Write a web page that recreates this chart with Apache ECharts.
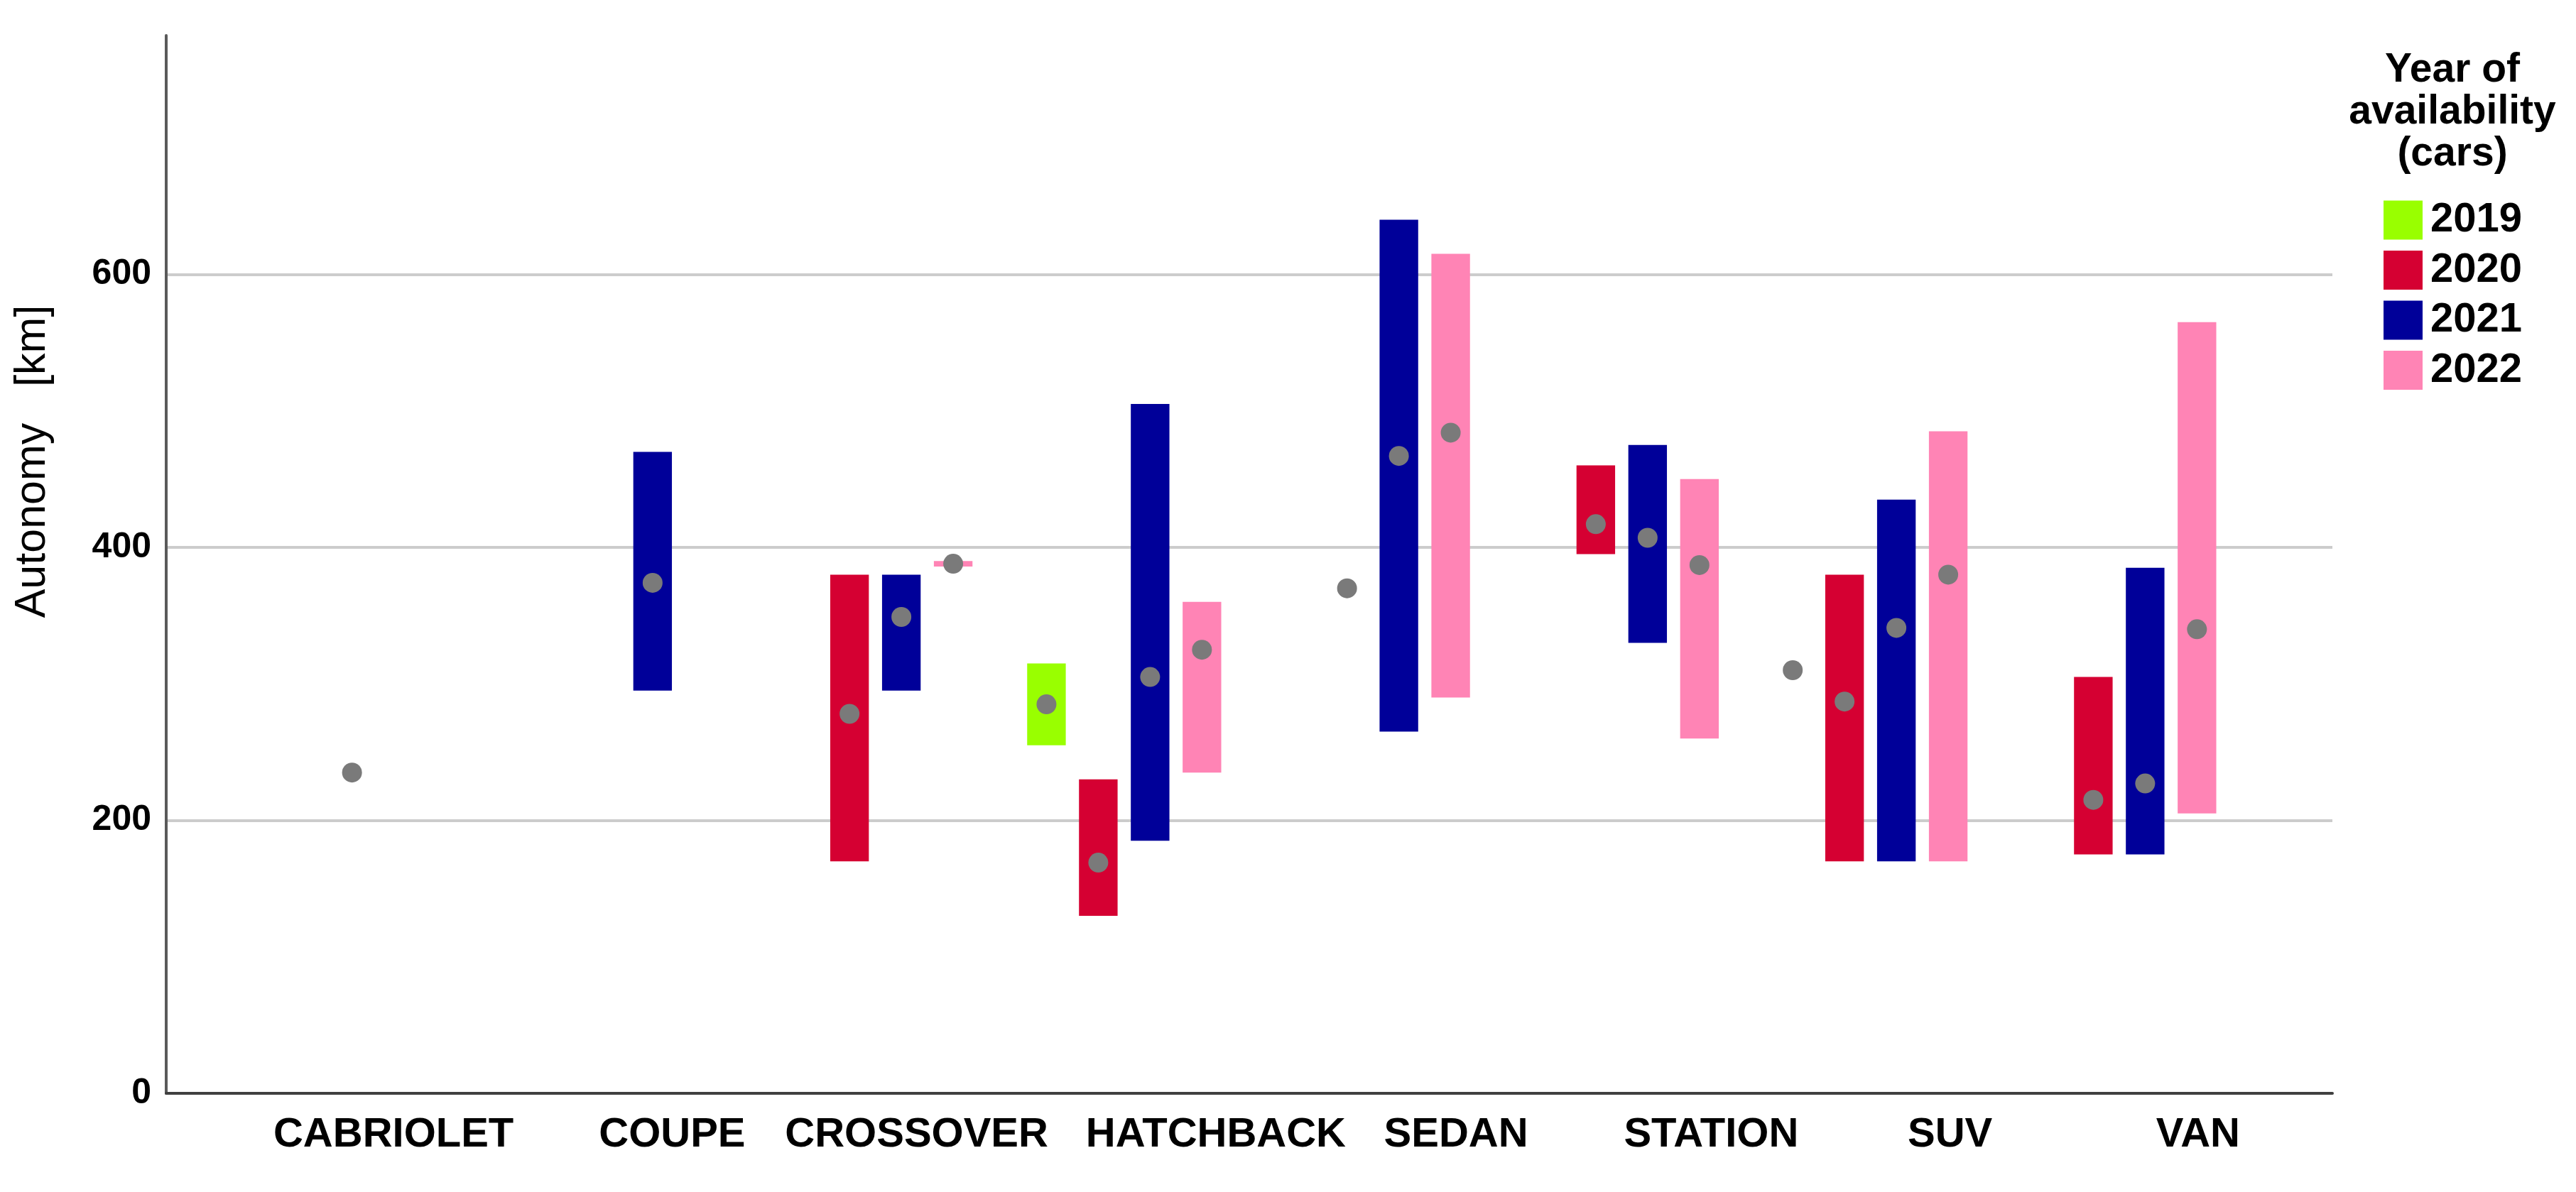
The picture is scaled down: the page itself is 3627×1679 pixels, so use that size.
<!DOCTYPE html>
<html>
<head>
<meta charset="utf-8">
<script src="https://cdn.jsdelivr.net/npm/echarts@6/dist/echarts.min.js"></script>
<style>
  html, body { margin: 0; padding: 0; background: #ffffff; }
  #chart { width: 3627px; height: 1679px; }
</style>
</head>
<body>
<div id="chart"></div>
<script>
// ---------------- DATA ----------------
const categories = ['CABRIOLET', 'COUPE', 'CROSSOVER', 'HATCHBACK', 'SEDAN', 'STATION', 'SUV', 'VAN'];
const years = ['2019', '2020', '2021', '2022'];

// Autonomy [km] per body type: minimum, maximum and mean (null = no cars that year)
const min2019  = [null, null, null, 255, null, null, 310, null];
const max2019  = [null, null, null, 315, null, null, 310, null];
const mean2019 = [null, null, null, 285, null, null, 310, null];

const min2020  = [235, null, 170, 130, 370, 395, 170, 175];
const max2020  = [235, null, 380, 230, 370, 460, 380, 305];
const mean2020 = [235, null, 278, 169, 370, 417, 287, 215];

const min2021  = [null, 295, 295, 185, 265, 330, 170, 175];
const max2021  = [null, 470, 380, 505, 640, 475, 435, 385];
const mean2021 = [null, 374, 349, 305, 467, 407, 341, 227];

const min2022  = [null, null, 386, 235, 290, 260, 170, 205];
const max2022  = [null, null, 390, 360, 615, 450, 485, 565];
const mean2022 = [null, null, 388, 325, 484, 387, 380, 340];

const yTicks = [0, 200, 400, 600];
const yAxisMax = 775;

// ---------------- STYLE ----------------
const FONT = '"Liberation Sans", Arial, sans-serif';
const yearColors = ['#99ff00', '#d50032', '#000099', '#ff84b5'];
const SLOTS_PER_CATEGORY = 4.8;   // 4 year slots + gap between clusters
const BAR_FRACTION = 0.745;       // bar width relative to a slot
const DOT_RADIUS = 14;
const DOT_COLOR = '#7a7a7a';
// horizontal nudge (px) of each category label, as placed in the original figure
const labelNudge = [22, 64, 58, 129, 117, 126, 112, 111];

const yearTables = [
  [min2019, max2019, mean2019],
  [min2020, max2020, mean2020],
  [min2021, max2021, mean2021],
  [min2022, max2022, mean2022]
];

function buildData(t) {
  const out = [];
  categories.forEach((c, i) => {
    if (t[0][i] != null) out.push([i, t[0][i], t[1][i], t[2][i]]);
  });
  return out;
}

function makeRenderer(yearIdx) {
  return function (params, api) {
    const cat = api.value(0);
    const lo = api.value(1), hi = api.value(2), mean = api.value(3);
    const center = api.coord([cat, 0])[0];
    const band = api.size([1, 0])[0];
    const slot = band / SLOTS_PER_CATEGORY;
    const x = center + (yearIdx - (years.length - 1) / 2) * slot;
    const w = slot * BAR_FRACTION;
    const yLo = api.coord([cat, lo])[1];
    const yHi = api.coord([cat, hi])[1];
    const yMean = api.coord([cat, mean])[1];
    const children = [];
    if (yLo - yHi > 0.5) {
      children.push({
        type: 'rect',
        shape: { x: x - w / 2, y: yHi, width: w, height: yLo - yHi },
        style: { fill: api.visual('color') }
      });
    }
    children.push({
      type: 'circle',
      shape: { cx: x, cy: yMean, r: DOT_RADIUS },
      style: { fill: DOT_COLOR }
    });
    return { type: 'group', children: children };
  };
}

const series = years.map((y, k) => ({
  name: y,
  type: 'custom',
  xAxisIndex: 1,
  yAxisIndex: 1,
  itemStyle: { color: yearColors[k] },
  encode: { x: 0, y: [1, 2, 3] },
  renderItem: makeRenderer(k),
  data: buildData(yearTables[k]),
  z: 3
}));

const labelRich = {};
labelNudge.forEach((n, i) => {
  labelRich['c' + i] = {
    color: '#000', fontFamily: FONT, fontWeight: 'bold', fontSize: 58,
    padding: [0, 0, 0, 2 * n]
  };
});

const chart = echarts.init(document.getElementById('chart'), null, { renderer: 'canvas' });

chart.setOption({
  backgroundColor: '#ffffff',
  animation: false,
  grid: [
    { left: 234, right: 343, top: 50, bottom: 139 },   // frame, y axis and gridlines
    { left: 357, right: 468, top: 50, bottom: 139 }    // category bands for the marks
  ],
  xAxis: [
    {
      gridIndex: 0, type: 'value', min: 0, max: 1,
      axisLine: { show: true, onZero: false, lineStyle: { color: '#404040', width: 4 } },
      axisTick: { show: false }, axisLabel: { show: false }, splitLine: { show: false }
    },
    {
      gridIndex: 1, type: 'category', data: categories,
      axisLine: { show: false }, axisTick: { show: false }, splitLine: { show: false },
      axisLabel: {
        margin: 30, color: '#000', fontFamily: FONT, fontWeight: 'bold', fontSize: 58,
        interval: 0, hideOverlap: false,
        formatter: function (value, index) { return '{c' + index + '|' + value + '}'; },
        rich: labelRich
      }
    }
  ],
  yAxis: [
    {
      gridIndex: 0, type: 'value', min: yTicks[0], max: yAxisMax,
      interval: yTicks[1] - yTicks[0],
      axisLine: { show: true, onZero: false, lineStyle: { color: '#5a5a5a', width: 4 } },
      axisTick: { show: false },
      axisLabel: {
        margin: 21, color: '#000', fontFamily: FONT, fontWeight: 'bold', fontSize: 50,
        showMaxLabel: false
      },
      splitLine: { show: true, showMaxLine: false, lineStyle: { color: '#cccccc', width: 4 } }
    },
    {
      gridIndex: 1, type: 'value', min: yTicks[0], max: yAxisMax,
      show: false, splitLine: { show: false }
    }
  ],
  legend: {
    data: years,
    orient: 'vertical',
    left: 3351,
    top: 276,
    icon: 'rect',
    itemWidth: 55,
    itemHeight: 55,
    itemGap: 12.5,
    selectedMode: false,
    textStyle: {
      color: '#000', fontFamily: FONT, fontWeight: 'bold', fontSize: 58, lineHeight: 55,
      padding: [0, 0, 0, 6]
    }
  },
  graphic: [
    {
      type: 'text', x: 46, y: 650, rotation: Math.PI / 2,
      style: {
        text: 'Autonomy   [km]', align: 'center', verticalAlign: 'middle',
        font: 'normal 61px ' + FONT, fill: '#000'
      }
    },
    {
      type: 'text', x: 3453, y: 70,
      style: {
        text: 'Year of\navailability\n(cars)', align: 'center', verticalAlign: 'top',
        font: 'bold 57px ' + FONT, lineHeight: 59, fill: '#000'
      }
    }
  ],
  series: series
});
</script>
</body>
</html>
